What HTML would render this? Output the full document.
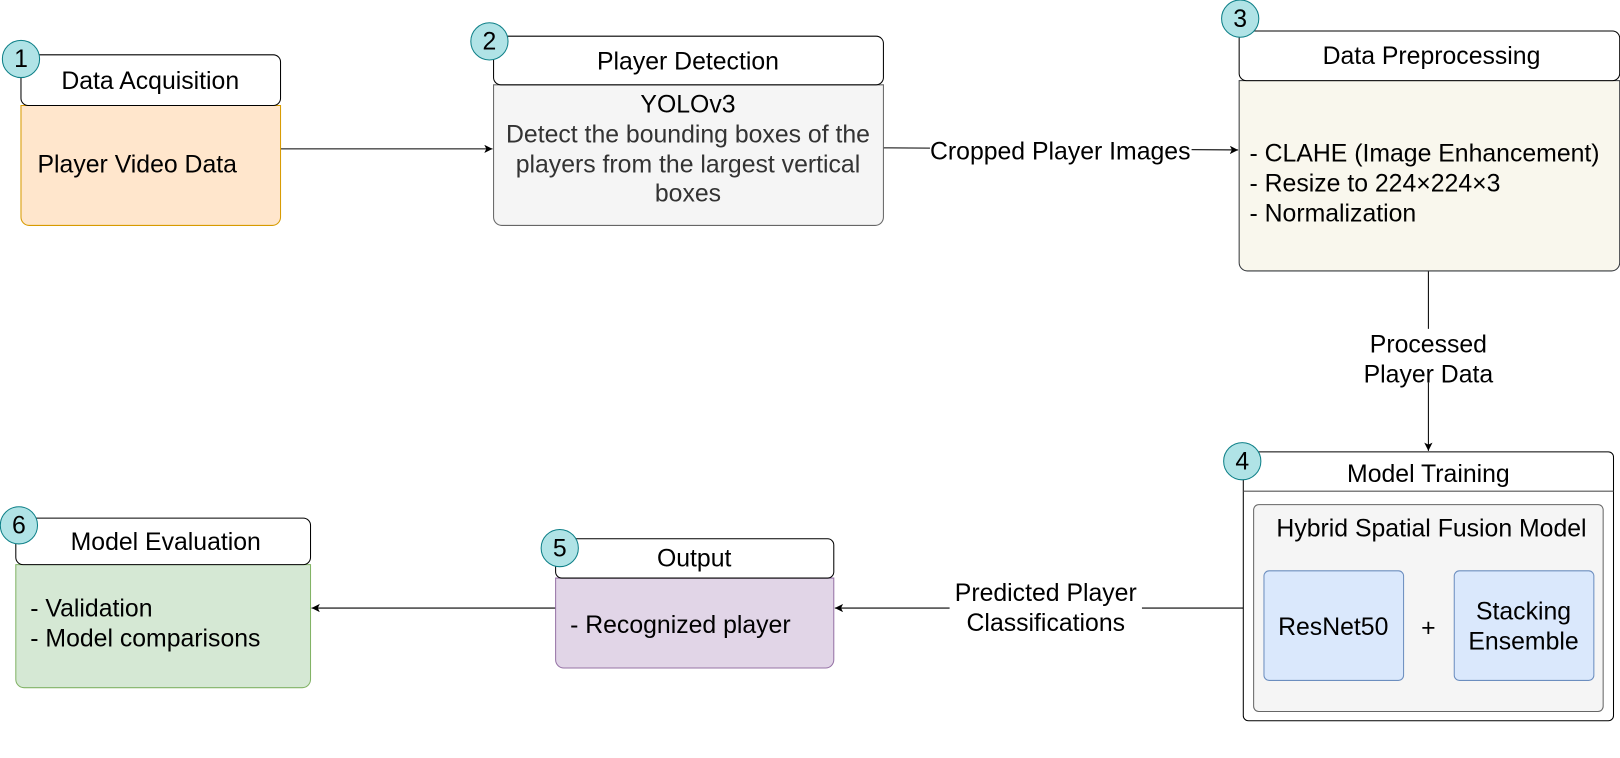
<!DOCTYPE html>
<html><head><meta charset="utf-8"><style>html,body{margin:0;padding:0;background:#fff}svg{display:block}svg text{font-family:"Liberation Sans",Arial,sans-serif;font-size:24px}</style></head><body>
<svg width="1620" height="758" viewBox="0 0 1566 733" xmlns="http://www.w3.org/2000/svg">
<defs><marker id="a" markerWidth="10" markerHeight="10" refX="8" refY="4" orient="auto" markerUnits="userSpaceOnUse"><path d="M0,0 L8,4 L0,8 L2,4 z" fill="#000"/></marker></defs>
<g stroke="#000" stroke-width="1" fill="none">
<line x1="271" y1="144" x2="476" y2="144" marker-end="url(#a)"/>
<line x1="854" y1="143" x2="1197" y2="145" marker-end="url(#a)"/>
<line x1="1381" y1="262" x2="1381" y2="436" marker-end="url(#a)"/>
<line x1="1212" y1="588" x2="807" y2="588" marker-end="url(#a)"/>
<line x1="537" y1="588" x2="301" y2="588" marker-end="url(#a)"/>
</g>
<path d="M20,102 H271 V210 a8,8 0 0 1 -8,8 H28 a8,8 0 0 1 -8,-8 Z" fill="#ffe6cc" stroke="#d79b00"/>
<rect x="20" y="53" width="251" height="49" rx="7" fill="#fff" stroke="#000"/>
<text x="145" y="86" text-anchor="middle">Data Acquisition</text>
<text x="36" y="167">Player Video Data</text>
<path d="M477,82 H854 V210 a8,8 0 0 1 -8,8 H485 a8,8 0 0 1 -8,-8 Z" fill="#f5f5f5" stroke="#666"/>
<rect x="477" y="35" width="377" height="47" rx="7" fill="#fff" stroke="#000"/>
<text x="665" y="67" text-anchor="middle">Player Detection</text>
<g text-anchor="middle" fill="#333"><text x="665" y="109" fill="#000">YOLOv3</text><text x="665" y="138">Detect the bounding boxes of the</text><text x="665" y="167">players from the largest vertical</text><text x="665" y="195">boxes</text></g>
<path d="M1198,78 H1566 V254 a8,8 0 0 1 -8,8 H1206 a8,8 0 0 1 -8,-8 Z" fill="#f9f7ed" stroke="#36393d"/>
<rect x="1198" y="30" width="368" height="48" rx="7" fill="#fff" stroke="#000"/>
<text x="1384" y="62" text-anchor="middle">Data Preprocessing</text>
<text x="1208" y="156">- CLAHE (Image Enhancement)</text><text x="1208" y="185">- Resize to 224×224×3</text><text x="1208" y="214">- Normalization</text>
<rect x="1202" y="437" width="358" height="260" rx="5" fill="#fff" stroke="#000"/>
<line x1="1202" y1="475" x2="1560" y2="475" stroke="#555"/>
<text x="1381" y="466" text-anchor="middle">Model Training</text>
<rect x="1212" y="488" width="338" height="200" rx="5" fill="#f5f5f5" stroke="#666"/>
<text x="1384" y="519" text-anchor="middle">Hybrid Spatial Fusion Model</text>
<rect x="1222" y="552" width="135" height="106" rx="5" fill="#dae8fc" stroke="#6c8ebf"/>
<rect x="1406" y="552" width="135" height="106" rx="5" fill="#dae8fc" stroke="#6c8ebf"/>
<text x="1289" y="614" text-anchor="middle">ResNet50</text>
<text x="1381" y="615" text-anchor="middle">+</text>
<text x="1473" y="599" text-anchor="middle">Stacking</text><text x="1473" y="628" text-anchor="middle">Ensemble</text>
<path d="M537,559 H806 V638 a8,8 0 0 1 -8,8 H545 a8,8 0 0 1 -8,-8 Z" fill="#e1d5e7" stroke="#9673a6"/>
<rect x="537" y="521" width="269" height="38" rx="6" fill="#fff" stroke="#000"/>
<text x="671" y="548" text-anchor="middle">Output</text>
<text x="551" y="612">- Recognized player</text>
<path d="M15,546 H300 V657 a8,8 0 0 1 -8,8 H23 a8,8 0 0 1 -8,-8 Z" fill="#d5e8d4" stroke="#82b366"/>
<rect x="15" y="501" width="285" height="45" rx="7" fill="#fff" stroke="#000"/>
<text x="160" y="532" text-anchor="middle">Model Evaluation</text>
<text x="29" y="596">- Validation</text><text x="29" y="625">- Model comparisons</text>
<rect x="899" y="134" width="253" height="24" fill="#fff"/>
<text x="1025" y="154" text-anchor="middle">Cropped Player Images</text>
<rect x="1322" y="318" width="118" height="52" fill="#fff"/>
<text x="1381" y="341" text-anchor="middle">Processed</text><text x="1381" y="370" text-anchor="middle">Player Data</text>
<rect x="918" y="560" width="186" height="52" fill="#fff"/>
<text x="1011" y="581" text-anchor="middle">Predicted Player</text><text x="1011" y="610" text-anchor="middle">Classifications</text>
<g fill="#b0e3e6" stroke="#0e8088"><circle cx="20" cy="57" r="18"/><circle cx="473" cy="40" r="18"/><circle cx="1199" cy="18" r="18"/><circle cx="1201" cy="446" r="18"/><circle cx="541" cy="530" r="18"/><circle cx="18" cy="508" r="18"/></g>
<g text-anchor="middle"><text x="20" y="65">1</text><text x="473" y="48">2</text><text x="1199" y="26">3</text><text x="1201" y="454">4</text><text x="541" y="538">5</text><text x="18" y="516">6</text></g>
</svg>
</body></html>
